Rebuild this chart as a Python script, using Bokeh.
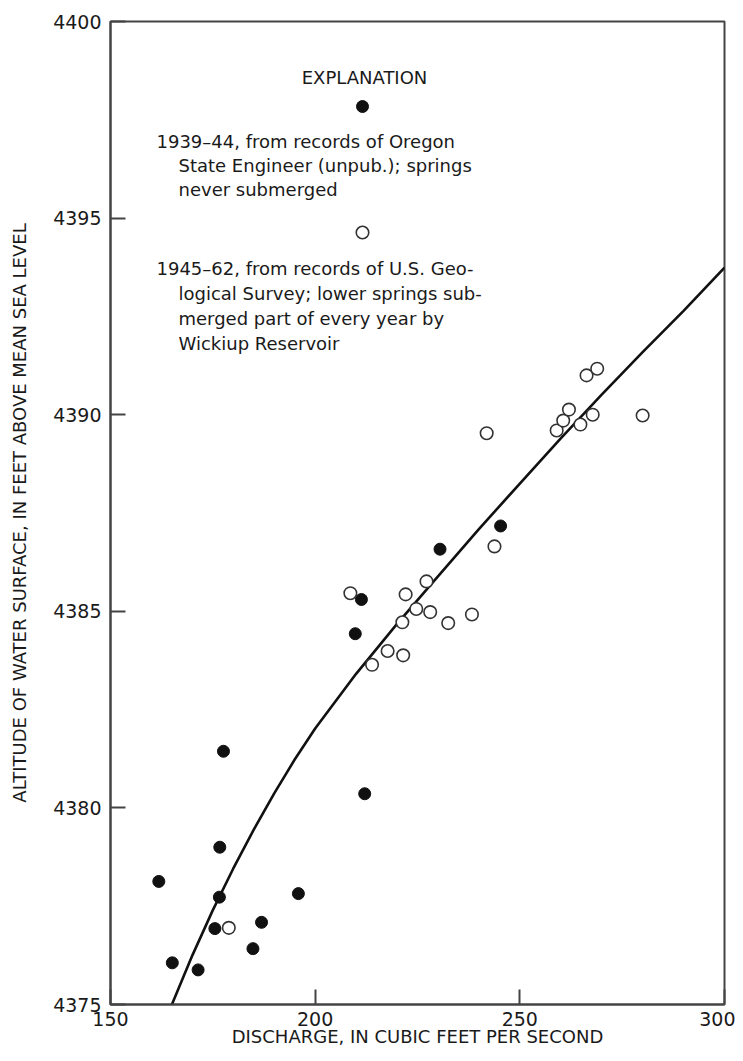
from bokeh.plotting import figure
from bokeh.models import Label, FixedTicker
from bokeh.embed import file_html
from bokeh.resources import INLINE

# ---- data ----
state_q = [161.8, 165.1, 171.4, 175.5, 176.6, 176.7, 177.6, 184.8, 186.9, 195.9,
           209.8, 211.3, 212.1, 230.5, 245.3]
state_alt = [4378.13, 4376.06, 4375.88, 4376.93, 4377.73, 4379.00, 4381.44, 4376.42,
             4377.09, 4377.82, 4384.43, 4385.30, 4380.36, 4386.58, 4387.17]

usgs_q = [178.9, 208.6, 213.9, 217.7, 221.5, 221.3, 222.1, 224.7, 227.2, 228.1, 232.5,
          238.3, 241.9, 243.8, 259.0, 260.6, 262.0, 264.8, 266.3, 267.8, 268.9, 280.0]
usgs_alt = [4376.95, 4385.46, 4383.64, 4383.99, 4383.88, 4384.72, 4385.43, 4385.06,
            4385.76, 4384.98, 4384.70, 4384.92, 4389.53, 4386.65, 4389.60, 4389.85,
            4390.13, 4389.75, 4391.00, 4390.00, 4391.17, 4389.98]

curve_q = [165, 170, 175, 180, 185, 190, 195, 200, 210, 220, 230, 240, 250, 260,
           270, 280, 290, 300]
curve_alt = [4375.00, 4376.25, 4377.40, 4378.46, 4379.45, 4380.37, 4381.23, 4382.02,
             4383.41, 4384.68, 4385.89, 4387.09, 4388.25, 4389.40, 4390.51, 4391.59,
             4392.64, 4393.74]

x_ticks = [150, 200, 250, 300]
y_ticks = [4375, 4380, 4385, 4390, 4395, 4400]

FONT = "DejaVu Sans"
INK = "#1a1a1a"
FRAME = "#444444"

p = figure(width=735, height=1053, x_range=(150, 300), y_range=(4375, 4400),
           output_backend="svg", toolbar_location=None,
           min_border_left=110, min_border_right=11, min_border_top=21, min_border_bottom=49)
p.background_fill_color = "white"
p.border_fill_color = "white"
p.grid.visible = False
p.outline_line_color = FRAME
p.outline_line_width = 2

for ax in (p.xaxis[0], p.yaxis[0]):
    ax.axis_line_color = FRAME
    ax.axis_line_width = 2
    ax.major_tick_in = 15
    ax.major_tick_out = 0
    ax.major_tick_line_color = FRAME
    ax.major_tick_line_width = 2
    ax.minor_tick_line_color = None
    ax.major_label_text_font = FONT
    ax.major_label_text_font_size = "19px"
    ax.major_label_text_color = INK
    ax.axis_label_text_font = FONT
    ax.axis_label_text_font_size = "18px"
    ax.axis_label_text_font_style = "normal"
    ax.axis_label_text_color = INK

p.xaxis.ticker = FixedTicker(ticks=x_ticks)
p.yaxis.ticker = FixedTicker(ticks=y_ticks)
p.xaxis.major_label_standoff = 7
p.yaxis.major_label_standoff = 9
p.xaxis.axis_label = "DISCHARGE, IN CUBIC FEET PER SECOND"
p.yaxis.axis_label = "ALTITUDE OF WATER SURFACE, IN FEET ABOVE MEAN SEA LEVEL"
p.xaxis.axis_label_standoff = -3
p.yaxis.axis_label_standoff = 20

p.line(curve_q, curve_alt, line_width=2.6, line_color="#111111")
p.scatter(state_q, state_alt, size=12, fill_color="#111111", line_color="#111111")
p.scatter(usgs_q, usgs_alt, size=12.5, fill_color="white", line_color="#333333", line_width=1.6)

# pixel positions of the reference frame -> data coordinates (for the explanation block)
def dx(px):
    return 150 + (px - 110) * 150 / 614.0

def dy(py):
    return 4375 + (1004 - py) * 25 / 983.0

def lab(text, px, py, align="left", size="18px"):
    p.add_layout(Label(x=dx(px), y=dy(py), text=text, text_font=FONT, text_font_size=size,
                       text_color=INK, text_align=align, text_baseline="alphabetic"))

lab("EXPLANATION", 364, 77, align="center", size="18px")
p.scatter([dx(362)], [dy(106)], size=12, fill_color="#111111", line_color="#111111")
lab("1939\u201344, from records of Oregon", 156, 141)
lab("State Engineer (unpub.); springs", 178, 165)
lab("never submerged", 178, 189)
p.scatter([dx(362)], [dy(232)], size=12.5, fill_color="white", line_color="#333333", line_width=1.6)
lab("1945\u201362, from records of U.S. Geo-", 156, 268)
lab("logical Survey; lower springs sub-", 178, 293)
lab("merged part of every year by", 178, 318)
lab("Wickiup Reservoir", 178, 343)

open("out.html", "w").write(file_html(p, INLINE))
